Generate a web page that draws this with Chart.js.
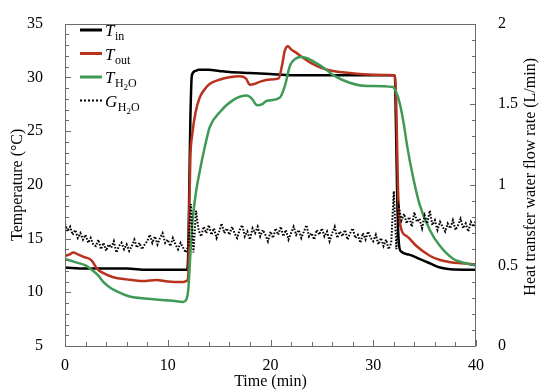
<!DOCTYPE html>
<html>
<head>
<meta charset="utf-8">
<script src="https://cdn.jsdelivr.net/npm/chart.js@4.4.0/dist/chart.umd.min.js"></script>
<style>
  body { margin: 0; background: #fff; }
  canvas { display: block; }
</style>
</head>
<body>
<canvas id="heatChart" width="550" height="392"></canvas>
<script>
// --- data ---
const tInTime = [0, 2, 4, 6, 8, 10, 11.9, 12.0, 12.1, 12.2, 12.35, 12.7, 13, 14, 15, 16, 18, 20, 22, 24, 26, 28, 30, 31.9, 32.1, 32.2, 32.35, 32.5, 32.7, 33.5, 34.5, 35.5, 36.5, 37.5, 40];
const tInVals = [12.3, 12.2, 12.2, 12.2, 12.1, 12.1, 12.1, 14, 20, 26, 30.2, 30.6, 30.7, 30.7, 30.6, 30.5, 30.4, 30.3, 30.2, 30.2, 30.2, 30.2, 30.2, 30.2, 30.1, 26, 18, 14.5, 13.8, 13.5, 13.1, 12.7, 12.3, 12.15, 12.1];

const tOutTime = [0, 0.4, 0.8, 1.3, 1.8, 2.6, 3.1, 3.7, 4.7, 6, 7.6, 8.9, 10, 11.5, 11.9, 12.0, 12.1, 12.2, 12.4, 12.7, 13.1, 13.6, 14.1, 15.1, 16, 17, 17.6, 18, 18.5, 19, 20, 20.8, 21.1, 21.4, 21.7, 22, 22.5, 22.9, 24, 25.5, 27.7, 30, 32.1, 32.25, 32.4, 32.6, 33.3, 34.2, 35.5, 36.5, 37.5, 38.5, 40];
const tOutVals = [13.4, 13.5, 13.7, 13.5, 13.3, 12.95, 12.2, 11.8, 11.4, 11.2, 11.05, 11.15, 11.0, 10.95, 11.1, 11.6, 18, 22.5, 24.8, 26.7, 28.1, 28.9, 29.4, 29.8, 30.0, 30.1, 29.9, 29.3, 29.4, 29.6, 29.8, 29.9, 31, 32.5, 32.9, 32.6, 32.3, 32.0, 31.3, 30.7, 30.4, 30.25, 30.2, 27, 20, 16.4, 15.2, 14.3, 13.4, 13.0, 12.8, 12.7, 12.6];

const tH2OTime = [0, 1, 2, 2.6, 3.2, 3.7, 4.3, 5, 6.3, 8, 9.2, 10.5, 11.5, 11.8, 12.0, 12.2, 12.4, 12.7, 13.1, 13.6, 14.1, 15.1, 16.4, 17.7, 18.2, 18.7, 19.2, 19.6, 20.9, 21.4, 21.9, 22.4, 22.9, 23.5, 24.5, 25.3, 26.1, 27.7, 29.4, 31.9, 32.2, 32.6, 33.0, 33.3, 33.9, 34.5, 35.5, 36.5, 37.8, 39, 40];
const tH2OVals = [13.1, 12.8, 12.5, 12.1, 11.6, 11.0, 10.5, 10.1, 9.6, 9.4, 9.3, 9.2, 9.1, 9.3, 10.3, 13.5, 16.5, 19, 21.2, 23.5, 25.4, 26.8, 27.9, 28.3, 28.0, 27.4, 27.5, 27.8, 28.1, 29.2, 31.1, 31.7, 31.9, 31.8, 31.3, 30.8, 30.2, 29.5, 29.2, 29.1, 28.7, 27.5, 25.5, 23.6, 20.6, 18.2, 15.8, 14.3, 13.1, 12.7, 12.5];

// flow rate, sampled every 0.25 min from 0 to 40
const gStep = 0.25;
const gVals = [
  0.76, 0.71, 0.74, 0.69, 0.72, 0.67, 0.70, 0.66, 0.69, 0.64, 0.67, 0.63,
  0.62, 0.66, 0.60, 0.64, 0.59, 0.63, 0.61, 0.65, 0.58, 0.62, 0.64, 0.60, 0.63, 0.59, 0.62, 0.66, 0.61, 0.64, 0.60, 0.63,
  0.65, 0.69, 0.64, 0.68, 0.63, 0.67, 0.70, 0.64, 0.66, 0.62, 0.67, 0.63, 0.60, 0.64, 0.61, 0.58,
  0.62, 0.88, 0.58, 0.84,
  0.72, 0.68, 0.74, 0.70, 0.75, 0.69, 0.73, 0.67, 0.71, 0.76, 0.70, 0.73,
  0.69, 0.74, 0.70, 0.67, 0.72, 0.75, 0.68, 0.71, 0.66, 0.73, 0.70, 0.74, 0.68, 0.72, 0.69, 0.65,
  0.71, 0.67, 0.73, 0.69, 0.74, 0.68, 0.72, 0.66, 0.70, 0.74, 0.69, 0.72, 0.67, 0.71, 0.75, 0.68, 0.70, 0.66, 0.72, 0.69,
  0.73, 0.68, 0.71, 0.65, 0.70, 0.74, 0.67, 0.71, 0.68, 0.72, 0.66, 0.70, 0.73, 0.67, 0.69, 0.64, 0.70, 0.66, 0.71, 0.67,
  0.65, 0.69, 0.63, 0.67, 0.62, 0.66, 0.60, 0.64,
  0.96, 0.60, 0.86, 0.78,
  0.82, 0.76, 0.80, 0.74, 0.83, 0.77, 0.79, 0.73, 0.81, 0.76, 0.84, 0.75, 0.78, 0.72, 0.77, 0.74,
  0.71, 0.76, 0.73, 0.78, 0.72, 0.75, 0.79, 0.73, 0.76, 0.71, 0.77, 0.74, 0.78
];

const xTicks = [0, 10, 20, 30, 40];
const flowTicks = ['0', '0.5', '1', '1.5', '2'];
const legendMain = ['T', 'T', 'T', 'G'];
const legendSub = ['in', 'out', 'H2O', 'H2O'];

const RED = '#b8321e';
const GREEN = '#3f9a55';
const AXIS = '#6b6b6b';
const SERIF = '"Liberation Serif", "Times New Roman", serif';

function pairs(xs, ys) {
  return xs.map((x, i) => ({ x: x, y: ys[i] }));
}

// inward ticks (major + minor), frame, legend and right-hand title
const decorations = {
  id: 'decorations',
  afterDraw(chart) {
    const { ctx, chartArea: a, scales } = chart;
    ctx.save();
    ctx.strokeStyle = AXIS;
    ctx.lineWidth = 1;
    ctx.strokeRect(Math.round(a.left) + 0.5, Math.round(a.top) + 0.5, Math.round(a.right - a.left) - 1, Math.round(a.bottom - a.top));

    ctx.beginPath();
    for (let v = 0; v <= 40; v += 2) {
      const px = Math.round(scales.x.getPixelForValue(v)) + 0.5;
      const len = v % 10 === 0 ? 6 : 4;
      ctx.moveTo(px, a.bottom);
      ctx.lineTo(px, a.bottom - len);
    }
    for (let v = 5; v <= 35; v += 1) {
      const py = Math.round(scales.y.getPixelForValue(v)) + 0.5;
      const len = v % 5 === 0 ? 6 : 4;
      ctx.moveTo(a.left, py);
      ctx.lineTo(a.left + len, py);
    }
    for (let i = 0; i <= 20; i++) {
      const py = Math.round(scales.y2.getPixelForValue(i / 10)) + 0.5;
      const len = i % 5 === 0 ? 6 : 4;
      ctx.moveTo(a.right, py);
      ctx.lineTo(a.right - len, py);
    }
    ctx.stroke();

    // legend
    const styles = chart.data.datasets;
    legendMain.forEach((m, i) => {
      const ly = 30 + i * 23.5;
      ctx.beginPath();
      ctx.strokeStyle = styles[i].borderColor;
      ctx.lineWidth = i === 3 ? 2 : 3;
      ctx.setLineDash(i === 3 ? [2, 2] : []);
      ctx.moveTo(80, ly);
      ctx.lineTo(102, ly);
      ctx.stroke();
      ctx.setLineDash([]);

      ctx.fillStyle = '#000';
      ctx.textBaseline = 'alphabetic';
      ctx.textAlign = 'left';
      let x = 105;
      const base = ly + 6;
      ctx.font = 'italic 17px ' + SERIF;
      ctx.fillText(m, x, base);
      x += ctx.measureText(m).width + 0.5;
      const sub = legendSub[i];
      ctx.font = '12px ' + SERIF;
      if (sub === 'H2O') {
        ctx.fillText('H', x, base + 4);
        x += ctx.measureText('H').width;
        ctx.font = '9px ' + SERIF;
        ctx.fillText('2', x, base + 7);
        x += ctx.measureText('2').width;
        ctx.font = '12px ' + SERIF;
        ctx.fillText('O', x, base + 4);
      } else {
        ctx.fillText(sub, x, base + 4);
      }
    });

    // right axis title reads bottom-to-top
    ctx.translate(531, (a.top + a.bottom) / 2 - 8);
    ctx.rotate(-Math.PI / 2);
    ctx.font = '16px ' + SERIF;
    ctx.fillStyle = '#000';
    ctx.textAlign = 'center';
    ctx.textBaseline = 'middle';
    ctx.fillText('Heat transfer water flow rate (L/min)', 0, 0);
    ctx.restore();
  }
};

const tickFont = { family: SERIF, size: 16 };

new Chart(document.getElementById('heatChart'), {
  type: 'line',
  data: {
    datasets: [
      { label: 'T_in', data: pairs(tInTime, tInVals), borderColor: '#000', borderWidth: 2.5, yAxisID: 'y', order: 4, cubicInterpolationMode: 'monotone' },
      { label: 'T_out', data: pairs(tOutTime, tOutVals), borderColor: RED, borderWidth: 2.5, yAxisID: 'y', order: 3, cubicInterpolationMode: 'monotone' },
      { label: 'T_H2O', data: pairs(tH2OTime, tH2OVals), borderColor: GREEN, borderWidth: 2.5, yAxisID: 'y', order: 2, cubicInterpolationMode: 'monotone' },
      { label: 'G_H2O', data: gVals.map((v, i) => ({ x: i * gStep, y: v })), borderColor: '#000', borderWidth: 2, borderDash: [1.6, 1.6], yAxisID: 'y2', order: 1 }
    ]
  },
  options: {
    responsive: false,
    animation: false,
    devicePixelRatio: 1,
    elements: { point: { radius: 0 } },
    layout: { padding: { top: 14, left: 0, right: 0, bottom: 0 } },
    plugins: { legend: { display: false }, tooltip: { enabled: false } },
    scales: {
      x: {
        type: 'linear', min: 0, max: 40,
        afterBuildTicks: s => { s.ticks = xTicks.map(v => ({ value: v })); },
        ticks: { font: tickFont, color: '#000', padding: 2, maxRotation: 0 },
        grid: { display: false },
        border: { display: false },
        title: { display: true, text: 'Time (min)', font: tickFont, color: '#000', padding: { top: 0, bottom: 1 } },
        afterFit: s => { s.height = 46; }
      },
      y: {
        position: 'left', min: 5, max: 35,
        ticks: { stepSize: 5, font: tickFont, color: '#000', padding: 14 },
        grid: { display: false },
        border: { display: false },
        title: { display: true, text: 'Temperature (°C)', font: tickFont, color: '#000', padding: { top: 8, bottom: 0 } },
        afterFit: s => { s.width = 65; }
      },
      y2: {
        position: 'right', min: 0, max: 2,
        ticks: { stepSize: 0.5, font: tickFont, color: '#000', padding: 14, callback: (v, i) => flowTicks[i] },
        grid: { display: false },
        border: { display: false },
        afterFit: s => { s.width = 74; }
      }
    }
  },
  plugins: [decorations]
});
</script>
</body>
</html>
